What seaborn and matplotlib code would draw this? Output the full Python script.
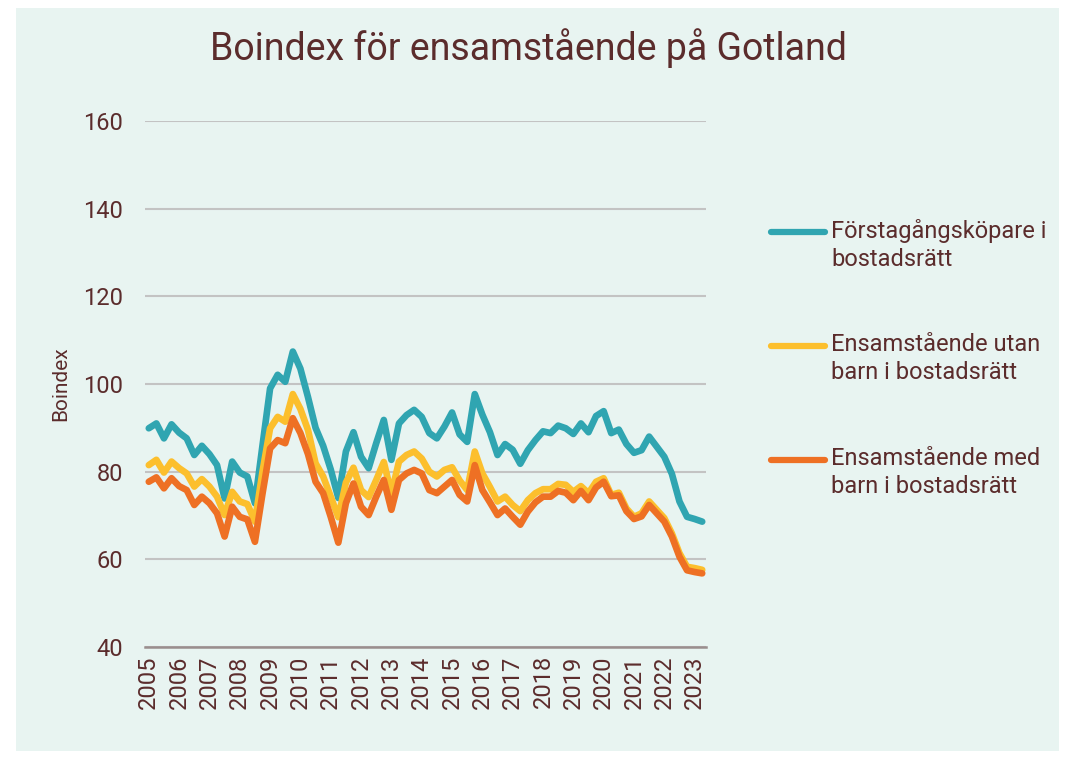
import seaborn as sns
import matplotlib.pyplot as plt
import pandas as pd
from matplotlib.patches import Rectangle
from matplotlib.lines import Line2D

# Data: kvartal 2005K1 - 2023K2
ar = list(range(2005, 2024))
forstagangskopare = [89.9, 91.0, 87.6, 90.8, 88.9, 87.6, 83.8, 85.9, 84.0, 81.5,
                     73.9, 82.3, 79.8, 78.9, 72.8, 86.0, 99.0, 102.1, 100.5, 107.4,
                     103.5, 97.0, 90.0, 85.9, 80.5, 74.0, 84.6, 89.0, 83.4, 80.8,
                     86.5, 91.8, 82.7, 91.0, 92.9, 94.1, 92.5, 88.8, 87.6, 90.3,
                     93.5, 88.5, 86.8, 97.7, 93.0, 89.0, 83.8, 86.3, 85.0, 81.8,
                     84.9, 87.2, 89.2, 88.8, 90.5, 89.9, 88.6, 91.0, 89.0, 92.7,
                     93.8, 88.8, 89.6, 86.3, 84.3, 84.9, 88.0, 85.7, 83.4, 79.5,
                     73.2, 69.7, 69.2, 68.6]
utan_barn = [81.5, 82.7, 79.8, 82.3, 80.8, 79.6, 76.6, 78.3, 76.6, 74.3,
             70.1, 75.4, 73.2, 72.6, 68.6, 80.0, 89.9, 92.5, 91.4, 97.7,
             94.3, 89.5, 81.9, 78.9, 74.3, 69.6, 77.5, 80.9, 75.8, 74.2,
             78.1, 82.2, 75.0, 82.3, 83.8, 84.6, 83.0, 80.0, 78.9, 80.4,
             81.0, 78.0, 75.8, 84.6, 79.6, 76.5, 73.2, 74.3, 72.4, 71.0,
             73.5, 75.1, 76.0, 76.0, 77.2, 77.0, 75.4, 76.7, 75.1, 77.7,
             78.5, 74.7, 75.2, 71.6, 69.7, 70.5, 73.2, 71.3, 69.4, 65.9,
             61.4, 58.3, 58.0, 57.6]
med_barn = [77.7, 78.7, 76.2, 78.5, 76.7, 75.8, 72.4, 74.3, 72.8, 70.5,
            65.2, 72.0, 69.7, 69.1, 64.0, 75.0, 85.3, 87.2, 86.5, 92.2,
            88.8, 84.0, 77.7, 75.1, 69.7, 63.8, 72.8, 77.3, 72.0, 70.1,
            74.3, 78.1, 71.3, 78.1, 79.6, 80.4, 79.6, 75.8, 75.1, 76.6,
            78.1, 74.7, 73.2, 81.5, 75.8, 73.0, 70.1, 71.6, 69.7, 67.9,
            70.9, 73.0, 74.3, 74.3, 75.6, 75.2, 73.5, 75.6, 73.5, 76.4,
            77.7, 74.4, 74.6, 71.0, 69.2, 69.8, 72.4, 70.5, 68.6, 65.2,
            60.6, 57.5, 57.1, 56.8]

serier = ["Förstagångsköpare i\nbostadsrätt",
          "Ensamstående utan\nbarn i bostadsrätt",
          "Ensamstående med\nbarn i bostadsrätt"]
colors = ["#30a5b1", "#fcbf2d", "#ee7024"]
textfarg = "#5b2c2c"

dfs = []
for namn, varden in zip(serier, [forstagangskopare, utan_barn, med_barn]):
    dfs.append(pd.DataFrame({"kvartal": range(len(varden)), "varde": varden, "serie": namn}))
df = pd.concat(dfs, ignore_index=True)

plt.rcParams['font.family'] = ['Roboto', 'DejaVu Sans']

W, H = 1074, 757
fig = plt.figure(figsize=(W / 100, H / 100), dpi=100)
fig.patch.set_facecolor("white")
fig.patches.append(Rectangle((16 / W, 1 - 751 / H), (1059 - 16) / W, (751 - 8) / H,
                             transform=fig.transFigure, facecolor="#e8f4f1", edgecolor="none", zorder=-10))

ax = fig.add_axes([145 / W, 1 - 647 / H, (706 - 145) / W, (647 - 121) / H])
ax.set_facecolor("none")

sns.lineplot(data=df, x="kvartal", y="varde", hue="serie", palette=colors,
             linewidth=4.8, ax=ax, legend=False, sort=False)
for line in ax.lines:
    line.set_solid_capstyle("round")
    line.set_solid_joinstyle("round")

ax.set_ylim(40, 160)
ax.set_xlim(-0.5, len(forstagangskopare) - 0.5)
ax.set_yticks(range(40, 161, 20))
ax.set_xticks(range(0, 4 * len(ar), 4))
ax.set_xticklabels([str(a) for a in ar], rotation=90)
ax.tick_params(axis="both", length=0, labelsize=17, colors=textfarg)
ax.tick_params(axis="y", pad=16)
ax.tick_params(axis="x", pad=6)
ax.grid(axis="y", color="#c3c3c3", linewidth=1.5)
ax.set_axisbelow(True)
for s in ["top", "right", "left"]:
    ax.spines[s].set_visible(False)
ax.spines["bottom"].set_color("#9a8e8e")
ax.spines["bottom"].set_linewidth(1.8)
ax.set_xlabel("")
ax.set_ylabel("Boindex", fontsize=15, color=textfarg, labelpad=9)

fig.text(528 / W, 1 - 48 / H, "Boindex för ensamstående på Gotland",
         ha="center", va="center", fontsize=27, color=textfarg)

# Förklaring
for i, (namn, farg) in enumerate(zip(serier, colors)):
    y = 232 + 114 * i
    fig.add_artist(Line2D([771 / W, 825 / W], [1 - y / H, 1 - y / H], transform=fig.transFigure,
                          color=farg, linewidth=4.5, solid_capstyle="round"))
    fig.text(831 / W, 1 - (y - 13) / H, namn, ha="left", va="top", fontsize=17,
             color=textfarg, linespacing=1.28)

plt.savefig("out.png", dpi=100)
